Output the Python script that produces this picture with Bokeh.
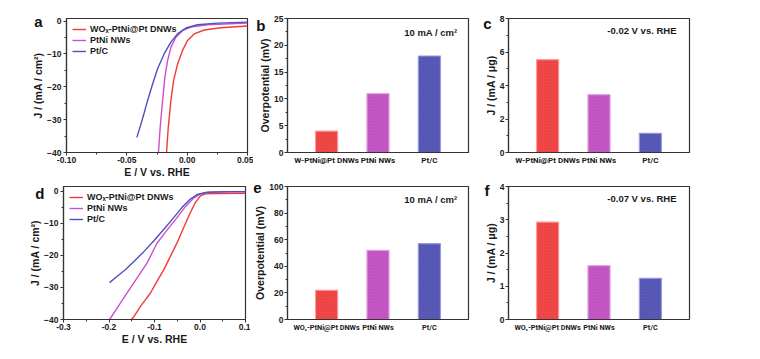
from bokeh.plotting import figure
from bokeh.layouts import row, column
from bokeh.models import (Range1d, FixedTicker, NumeralTickFormatter,
                          Label, ColumnDataSource, LinearAxis, CustomJSTickFormatter)
from bokeh.embed import file_html
from bokeh.resources import INLINE

# ---------------- data ----------------
# panel a: LSV curves (E / V vs RHE, J / mA cm-2)
a_wox_x = [-0.0171, -0.0157, -0.0135, -0.0113, -0.0080, -0.0039, 0.0003, 0.0058, 0.0141, 0.0279, 0.05]
a_wox_y = [-40.0, -32.5, -24.3, -18.2, -13.1, -9.0, -5.9, -3.9, -2.7, -2.0, -1.5]
a_ptni_x = [-0.0238, -0.0224, -0.0204, -0.0185, -0.0163, -0.0135, -0.0094, -0.0039, 0.0030, 0.0168, 0.05]
a_ptni_y = [-40.0, -32.5, -24.3, -17.2, -12.1, -8.0, -4.9, -2.9, -1.8, -1.1, -0.6]
a_ptc_x = [-0.0417, -0.0384, -0.0356, -0.0329, -0.0287, -0.0246, -0.0191, -0.0135, -0.0080, -0.0011, 0.0086, 0.0251, 0.05]
a_ptc_y = [-35.4, -31.5, -27.9, -24.3, -19.2, -14.6, -10.0, -6.4, -3.9, -2.1, -1.1, -0.6, -0.3]

# panel d: LSV curves
d_wox_x = [-0.151, -0.1459, -0.1385, -0.1312, -0.1202, -0.1092, -0.0945, -0.0798, -0.0651, -0.0505, -0.0358, -0.0211, -0.0101, 0.0009, 0.0119, 0.0376, 0.1]
d_wox_y = [-40.0, -39.2, -37.6, -36.0, -33.9, -31.8, -28.1, -24.5, -20.3, -16.1, -11.3, -6.6, -3.5, -1.4, -0.8, -0.7, -0.6]
d_ptni_x = [-0.1987, -0.1826, -0.1606, -0.1385, -0.1165, -0.0945, -0.0725, -0.0505, -0.0321, -0.0138, 0.0009, 0.0229, 0.1]
d_ptni_y = [-40.0, -36.5, -31.8, -27.1, -22.4, -16.2, -12.1, -8.2, -4.8, -2.1, -0.8, -0.3, -0.1]
d_ptc_x = [-0.1987, -0.1826, -0.1642, -0.1459, -0.1239, -0.1018, -0.0798, -0.0578, -0.0394, -0.0211, -0.0064, 0.0156, 0.0596, 0.1]
d_ptc_y = [-28.5, -26.6, -24.5, -22.0, -18.9, -15.5, -11.9, -8.2, -5.0, -2.4, -1.0, -0.3, -0.1, -0.1]

series_names = ["WOₓ-PtNi@Pt DNWs", "PtNi NWs", "Pt/C"]

# bar panels
cats_top = ["W-PtNi@Pt DNWs", "PtNi NWs", "Pt/C"]
cats_bot = ["WOₓ-PtNi@Pt DNWs", "PtNi NWs", "Pt/C"]
b_vals = [4.0, 11.0, 18.0]
c_vals = [5.55, 3.45, 1.15]
e_vals = [22.0, 52.0, 57.0]
f_vals = [2.93, 1.62, 1.24]

# ticks
a_xticks = [-0.10, -0.05, 0.0, 0.05]
a_xminor = [-0.075, -0.025, 0.025]
a_yticks = [-40, -30, -20, -10, 0]
a_yminor = [-35, -25, -15, -5]
d_xticks = [-0.3, -0.2, -0.1, 0.0, 0.1]
d_xminor = [-0.25, -0.15, -0.05, 0.05]
d_yticks = [-40, -30, -20, -10, 0]
d_yminor = [-35, -25, -15, -5]
b_yticks = [0, 5, 10, 15, 20, 25]
b_yminor = [2.5, 7.5, 12.5, 17.5, 22.5]
c_yticks = [0, 2, 4, 6, 8]
c_yminor = [1, 3, 5, 7]
e_yticks = [0, 20, 40, 60, 80, 100]
e_yminor = [10, 30, 50, 70, 90]
f_yticks = [0, 1, 2, 3, 4]
f_yminor = [0.5, 1.5, 2.5, 3.5]

# ---------------- style ----------------
FONT = "Liberation Sans"
CAT_FONT = "Roboto"
AX = "#333333"
TXT = "#1a1a1a"
line_cols = ["#f03a3a", "#cc4fcc", "#4f4fbf"]
bar_fill = ["#f24848", "#c658c6", "#5a5ab8"]
bar_line = ["#ff9a9a", "#e4a0e4", "#9a9ae0"]
bar_hatch = ["#c02020", "#963096", "#30308a"]


def make_fig(w, h, ml, mr, mt, mb, xr, yr):
    p = figure(width=w, height=h, x_range=xr, y_range=yr, output_backend="svg",
               toolbar_location=None, min_border_left=ml, min_border_right=mr,
               min_border_top=mt, min_border_bottom=mb)
    p.xgrid.visible = False
    p.ygrid.visible = False
    p.outline_line_color = AX
    p.outline_line_width = 1.2
    p.outline_line_alpha = 1.0
    p.background_fill_color = "white"
    p.border_fill_color = "white"
    return p


def style_axis(ax, label=None, ticks=None, minor=None, fmt=None, tick_out=3, size="8.5px", font=FONT):
    ax.axis_line_color = AX
    ax.axis_line_width = 1.2
    ax.major_tick_line_color = AX
    ax.minor_tick_line_color = AX
    ax.major_tick_out = tick_out
    ax.major_tick_in = 0
    ax.minor_tick_out = 2
    ax.minor_tick_in = 0
    ax.major_label_text_font = font
    ax.major_label_text_font_style = "bold"
    ax.major_label_text_font_size = size
    ax.major_label_text_color = TXT
    ax.major_label_standoff = 2
    if label is not None:
        ax.axis_label = label
        ax.axis_label_text_font = FONT
        ax.axis_label_text_font_style = "bold"
        ax.axis_label_text_font_size = "10.5px"
        ax.axis_label_text_color = TXT
        ax.axis_label_standoff = 0
    if ticks is not None:
        ax.ticker = FixedTicker(ticks=ticks, minor_ticks=minor or [])
    if fmt is not None:
        ax.formatter = NumeralTickFormatter(format=fmt)


def add_text(p, text, x, y, size="9.5px"):
    p.add_layout(Label(x=x, y=y, x_units="screen", y_units="screen", text=text,
                       text_font=FONT, text_font_style="bold", text_font_size=size,
                       text_color=TXT, text_align="right", text_baseline="middle"))


def add_letter(p, letter, frac, standoff):
    # panel letter: single tick label of an extra, invisible outer left axis
    p.extra_y_ranges = {"letter_y": Range1d(0, 1)}
    ax = LinearAxis(y_range_name="letter_y",
                    ticker=FixedTicker(ticks=[frac], minor_ticks=[]),
                    formatter=CustomJSTickFormatter(code="return '%s';" % letter))
    ax.axis_line_color = None
    ax.major_tick_line_color = None
    ax.minor_tick_line_color = None
    ax.major_tick_out = 0
    ax.major_tick_in = 0
    ax.minor_tick_out = 0
    ax.minor_tick_in = 0
    ax.major_label_standoff = standoff
    ax.major_label_text_font = FONT
    ax.major_label_text_font_style = "bold"
    ax.major_label_text_font_size = "15px"
    ax.major_label_text_color = "#111111"
    p.add_layout(ax, "left")


def lsv_panel(w, h, ml, mr, mt, mb, xr, yr, curves, xticks, xminor, yticks, yminor, fmt):
    p = make_fig(w, h, ml, mr, mt, mb, Range1d(*xr), Range1d(*yr))
    for (xs, ys), col, name in zip(curves, line_cols, series_names):
        p.line(xs, ys, line_color=col, line_width=1.4, legend_label=name)
    style_axis(p.xaxis[0], "E / V vs. RHE", xticks, xminor, fmt)
    p.xaxis[0].major_label_standoff = 1
    style_axis(p.yaxis[0], "J / (mA / cm²)", yticks, yminor)
    lg = p.legend[0]
    lg.location = "top_left"
    lg.border_line_color = None
    lg.background_fill_alpha = 0
    lg.margin = 6
    lg.padding = 7
    lg.spacing = 1
    lg.glyph_width = 14
    lg.glyph_height = 10
    lg.label_height = 10
    lg.label_standoff = 4
    lg.label_text_font = FONT
    lg.label_text_font_style = "bold"
    lg.label_text_font_size = "9px"
    lg.label_text_color = TXT
    return p


def bar_panel(w, h, ml, mr, mt, mb, cats, vals, ymax, yticks, yminor, ylabel, note, nx, ny, catsize="8px"):
    pos = list(range(len(cats)))
    src = ColumnDataSource(dict(pos=pos, val=vals, fill=bar_fill, line=bar_line, hatch=bar_hatch))
    pad = 0.76
    p = make_fig(w, h, ml, mr, mt, mb, Range1d(pos[0] - pad, pos[-1] + pad), Range1d(0, ymax))
    p.vbar(x="pos", top="val", width=0.43, source=src, fill_color="fill", line_color="line",
           line_width=1.2, hatch_pattern="diagonal_cross", hatch_color="hatch",
           hatch_alpha=0.25, hatch_scale=3, hatch_weight=0.6)
    style_axis(p.xaxis[0], None, pos, [], tick_out=0, size=catsize, font=CAT_FONT)
    p.xaxis[0].major_label_overrides = {i: c for i, c in zip(pos, cats)}
    p.xaxis[0].major_label_standoff = 3
    p.xaxis[0].minor_tick_out = 0
    style_axis(p.yaxis[0], ylabel, yticks, yminor)
    p.yaxis[0].major_label_standoff = 1
    add_text(p, note, nx, ny)
    return p


# row 1 (page origin at the top-left corner of the window)
pa = lsv_panel(253, 180, 66, 6, 18, 28, (-0.10, 0.05), (-40, 0.8),
               [(a_wox_x, a_wox_y), (a_ptni_x, a_ptni_y), (a_ptc_x, a_ptc_y)],
               a_xticks, a_xminor, a_yticks, a_yminor, "0.00")
add_letter(pa, "a", 0.976, -13)
pb = bar_panel(227, 180, 32, 12, 18, 28, cats_top, b_vals, 25, b_yticks, b_yminor,
               "Overpotential (mV)", "10 mA / cm²", 170, 120)
add_letter(pb, "b", 0.948, -9)
pc = bar_panel(272, 180, 28, 63, 18, 28, cats_top, c_vals, 8, c_yticks, c_yminor,
               "J / (mA / μg)", "-0.02 V vs. RHE", 168, 122)
add_letter(pc, "c", 0.965, -10)
# row 2
pd = lsv_panel(250, 171, 63, 5, 6, 32, (-0.3, 0.1), (-40, 1.5),
               [(d_wox_x, d_wox_y), (d_ptni_x, d_ptni_y), (d_ptc_x, d_ptc_y)],
               d_xticks, d_xminor, d_yticks, d_yminor, "0.0")
add_letter(pd, "d", 0.951, -18)
pe = bar_panel(230, 171, 35, 12, 6, 32, cats_bot, e_vals, 100, e_yticks, e_yminor,
               "Overpotential (mV)", "10 mA / cm²", 170, 120, catsize="7.3px")
add_letter(pe, "e", 0.987, -10)
pf = bar_panel(272, 171, 28, 63, 6, 32, cats_bot, f_vals, 4, f_yticks, f_yminor,
               "J / (mA / μg)", "-0.07 V vs. RHE", 168, 121, catsize="7.3px")
add_letter(pf, "f", 0.97, -8)

layout = column(row(pa, pb, pc), row(pd, pe, pf))

open("out.html", "w").write(file_html(layout, INLINE))
